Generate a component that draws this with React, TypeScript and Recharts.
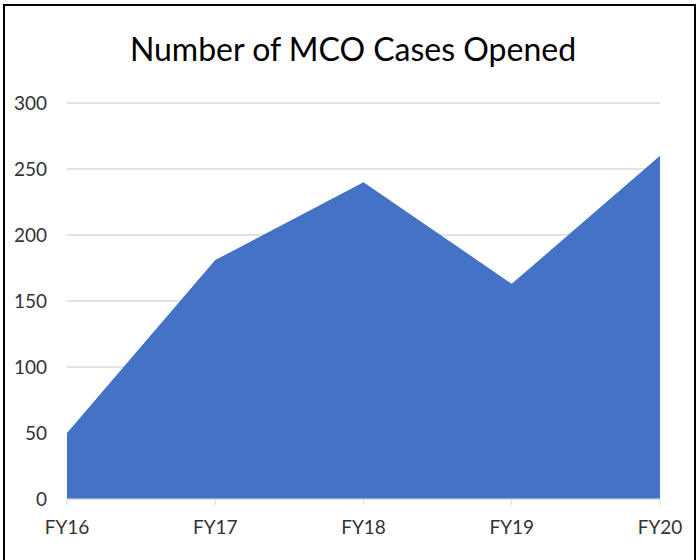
import { AreaChart, Area, XAxis, YAxis, CartesianGrid } from "recharts";

const years = ["FY16", "FY17", "FY18", "FY19", "FY20"];
const casesOpened = [50, 181, 240, 163, 260];
const yTicks = [0, 50, 100, 150, 200, 250, 300];

const data = years.map((year, i) => ({ year, cases: casesOpened[i] }));

const FONT = "Lato, 'Open Sans', sans-serif";

export default function App() {
  return (
    <div
      style={{
        position: "absolute",
        left: 0,
        top: 0,
        width: 698,
        height: 560,
        background: "#fff",
        overflow: "hidden",
        fontFamily: FONT,
      }}
    >
      {/* outer frame */}
      <div
        style={{
          position: "absolute",
          left: 3,
          top: 4,
          width: 689,
          height: 600,
          border: "2px solid #000",
        }}
      />
      <div
        style={{
          position: "absolute",
          left: 0,
          top: 29,
          width: 706,
          textAlign: "center",
          fontSize: 32,
          color: "#000",
        }}
      >
        Number of MCO Cases Opened
      </div>
      <div style={{ position: "absolute", left: 0, top: 0 }}>
        <AreaChart
          width={698}
          height={560}
          data={data}
          margin={{ top: 103, right: 38, bottom: 21, left: 0 }}
        >
          <CartesianGrid vertical={false} stroke="#d9d9d9" strokeWidth={1.5} />
          <XAxis
            dataKey="year"
            height={40}
            stroke="#d9d9d9"
            tickSize={6}
            tickMargin={16}
            tick={{ fill: "#333", fontSize: 19, fontFamily: FONT }}
            interval={0}
          />
          <YAxis
            width={67}
            domain={[0, 300]}
            ticks={yTicks}
            axisLine={false}
            tickLine={false}
            tickSize={0}
            tickMargin={20}
            tick={{ fill: "#333", fontSize: 19, fontFamily: FONT }}
          />
          <Area
            type="linear"
            dataKey="cases"
            fill="#4472c4"
            fillOpacity={1}
            stroke="none"
            isAnimationActive={false}
          />
        </AreaChart>
      </div>
    </div>
  );
}
